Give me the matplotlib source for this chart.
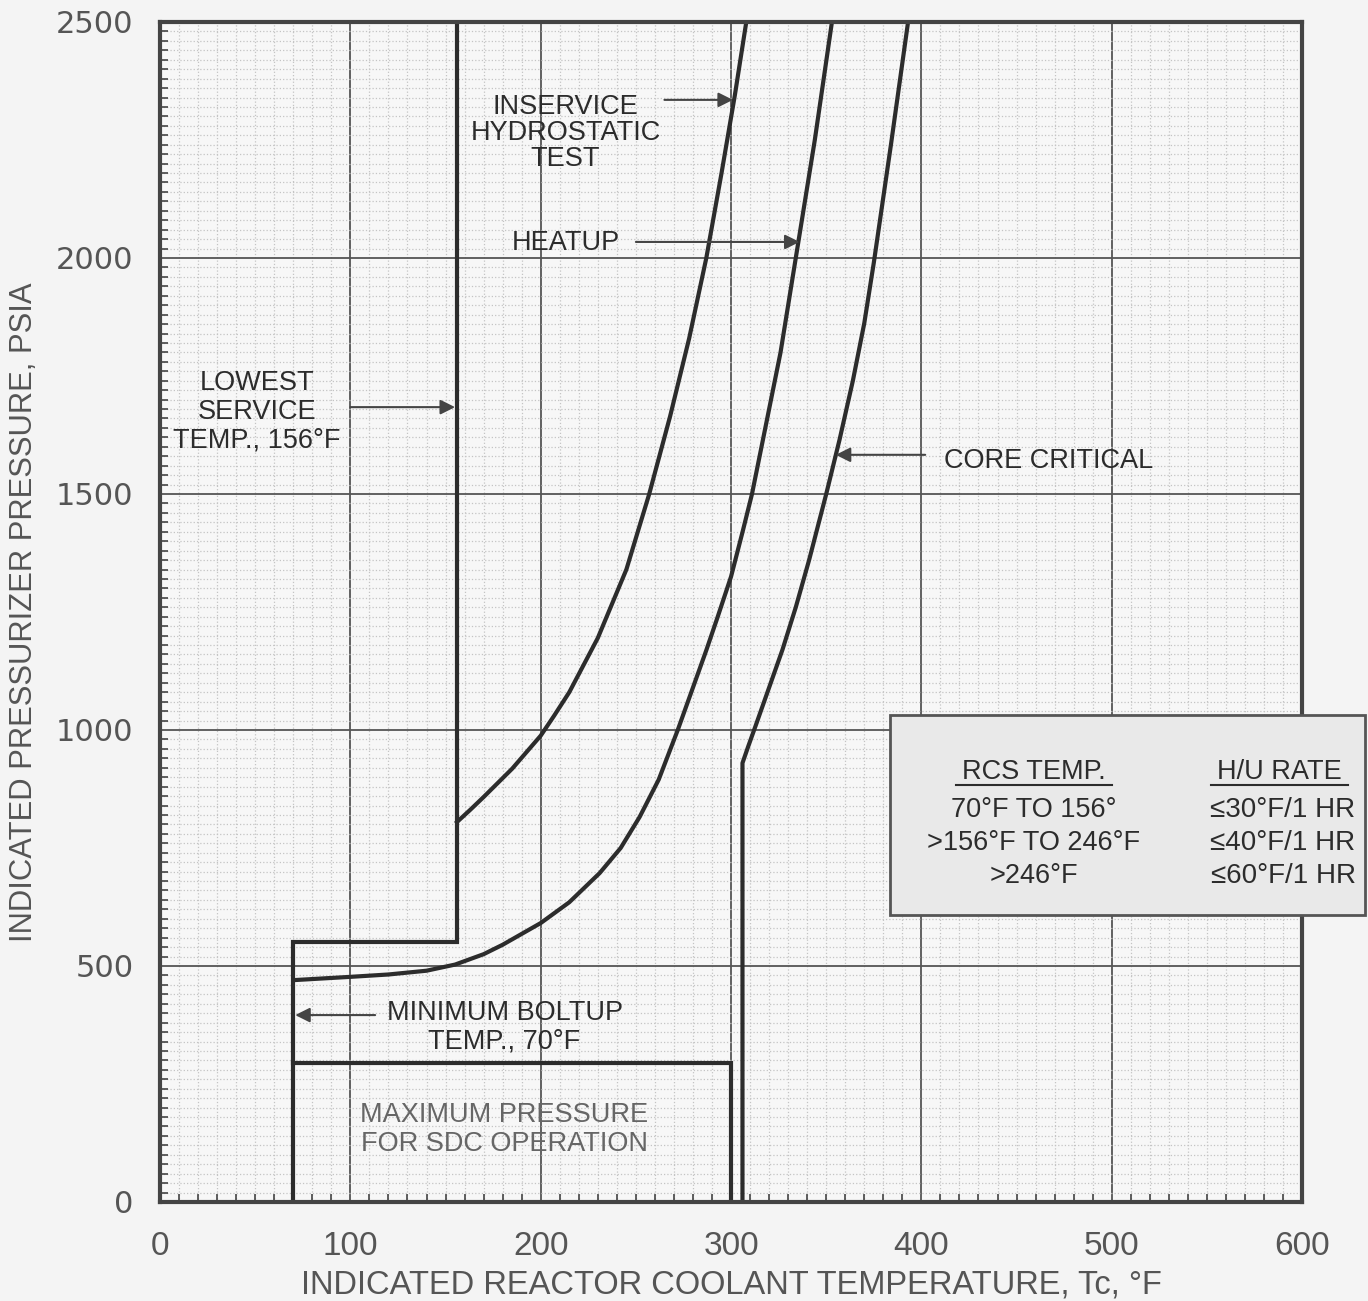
import matplotlib
matplotlib.use("Agg")
import matplotlib.pyplot as plt
from matplotlib.patches import Rectangle
from matplotlib.ticker import MultipleLocator

# curve data (deg F, psia)
hydro_t = [156, 163, 170, 185, 200, 207, 215, 230, 245, 257, 268, 278, 287, 295, 302, 308]
hydro_p = [805, 831, 858, 918, 988, 1030, 1080, 1195, 1340, 1500, 1665, 1830, 2000, 2180, 2345, 2500]

heatup_t = [70, 100, 120, 140, 155, 170, 180, 200, 215, 231, 242, 252, 262, 272, 287, 293,
            300, 306, 311, 318, 326, 334, 344, 353]
heatup_p = [470, 477, 482, 490, 503, 525, 545, 591, 635, 697, 750, 816, 895, 1000, 1169, 1240,
            1325, 1419, 1500, 1640, 1800, 2000, 2250, 2500]

core_t = [306, 306, 309, 313, 320, 327, 334, 341, 350, 357, 364, 370, 375, 384, 393]
core_p = [0, 930, 965, 1010, 1090, 1170, 1260, 1360, 1500, 1615, 1740, 1862, 1990, 2240, 2500]

# lowest service temp / boltup limit
lst_t = [70, 70, 156, 156]
lst_p = [0, 550, 550, 2500]

# max pressure for SDC operation
sdc_t = [70, 300, 300]
sdc_p = [295, 295, 0]

xticks = [0, 100, 200, 300, 400, 500, 600]
yticks = [0, 500, 1000, 1500, 2000, 2500]

table_left = ["70\u00b0F TO 156\u00b0", ">156\u00b0F TO 246\u00b0F", ">246\u00b0F"]
table_right = ["\u226430\u00b0F/1 HR", "\u226440\u00b0F/1 HR", "\u226460\u00b0F/1 HR"]

plt.rcParams["font.family"] = ["Liberation Sans", "DejaVu Sans"]
ink = "#2c2c2c"
gray_txt = "#555555"

fig = plt.figure(figsize=(13.68, 13.01), dpi=100, facecolor="#f4f4f4")
ax = fig.add_axes([0.117, 0.0761, 0.8348, 0.907])
ax.set_facecolor("#f7f7f7")

ax.set_xlim(0, 600)
ax.set_ylim(0, 2500)
ax.set_xticks(xticks)
ax.set_yticks(yticks)
ax.xaxis.set_minor_locator(MultipleLocator(10))
ax.yaxis.set_minor_locator(MultipleLocator(20))
ax.grid(which="minor", color="#c4c4c4", linestyle=":", linewidth=0.9)
ax.grid(which="major", color="#555555", linestyle="-", linewidth=1.3)
ax.set_axisbelow(True)
ax.tick_params(which="major", length=0)
ax.tick_params(axis="x", which="major", pad=21, labelsize=24, labelcolor=gray_txt)
ax.tick_params(axis="y", which="major", pad=19, labelsize=22, labelcolor=gray_txt)
for lab in ax.get_yticklabels():
    lab.set_family("DejaVu Sans")
ax.tick_params(which="minor", direction="in", length=6, width=1.2, color="#444444")
for s in ax.spines.values():
    s.set_linewidth(3)
    s.set_color("#444444")

lw = 3.0
ax.plot(lst_t, lst_p, color=ink, lw=lw, solid_joinstyle="miter")
ax.plot(sdc_t, sdc_p, color=ink, lw=lw, solid_joinstyle="miter")
ax.plot(hydro_t, hydro_p, color=ink, lw=lw)
ax.plot(heatup_t, heatup_p, color=ink, lw=lw)
ax.plot(core_t, core_p, color=ink, lw=lw)

fs = 19.5
arrow = dict(arrowstyle="-|>", color="#444444", lw=1.5, mutation_scale=22, shrinkA=0, shrinkB=0)

ax.text(213, 2265, "INSERVICE\nHYDROSTATIC\nTEST", ha="center", va="center",
        fontsize=fs, color=ink, linespacing=1.0)
ax.annotate("", xy=(301, 2335), xytext=(265, 2335), arrowprops=arrow)

ax.text(213, 2032, "HEATUP", ha="center", va="center", fontsize=fs, color=ink)
ax.annotate("", xy=(336, 2034), xytext=(250, 2034), arrowprops=arrow)

ax.text(51, 1674, "LOWEST\nSERVICE\nTEMP., 156\u00b0F", ha="center", va="center",
        fontsize=fs, color=ink, linespacing=1.15)
ax.annotate("", xy=(155, 1684), xytext=(100, 1684), arrowprops=arrow)

ax.text(412, 1570, "CORE CRITICAL", ha="left", va="center", fontsize=fs, color=ink)
ax.annotate("", xy=(355, 1583), xytext=(402, 1583), arrowprops=arrow)

ax.text(181, 370, "MINIMUM BOLTUP\nTEMP., 70\u00b0F", ha="center", va="center",
        fontsize=fs, color=ink, linespacing=1.12)
ax.annotate("", xy=(71, 396), xytext=(113, 396), arrowprops=arrow)

ax.text(181, 154, "MAXIMUM PRESSURE\nFOR SDC OPERATION", ha="center", va="center",
        fontsize=fs, color="#666666", linespacing=1.15)

# heatup rate table
box = Rectangle((383.5, 608), 249.5, 424, facecolor="#e9e9e9", edgecolor="#555555",
                lw=2, clip_on=False, zorder=5)
ax.add_patch(box)
ax.text(459, 910, "RCS TEMP.", ha="center", va="center", fontsize=fs, color=ink, zorder=6)
ax.plot([418, 500], [883, 883], color=ink, lw=1.5, clip_on=False, zorder=6)
ax.text(588, 910, "H/U RATE", ha="center", va="center", fontsize=fs, color=ink, zorder=6)
ax.plot([552, 624], [883, 883], color=ink, lw=1.5, clip_on=False, zorder=6)
for i, (l, r) in enumerate(zip(table_left, table_right)):
    y = 830 - i * 70
    ax.text(459, y, l, ha="center", va="center", fontsize=fs, color=ink, zorder=6)
    ax.text(590, y, r, ha="center", va="center", fontsize=20, color=ink, zorder=6)

ax.set_xlabel("INDICATED REACTOR COOLANT TEMPERATURE, Tc, \u00b0F", fontsize=23.5,
              color=gray_txt)
ax.set_ylabel("INDICATED PRESSURIZER PRESSURE, PSIA", fontsize=22.3, color=gray_txt)
ax.xaxis.set_label_coords(0.5, -0.057)
ax.yaxis.set_label_coords(-0.106, 0.5)

fig.savefig("out.png", dpi=100, facecolor=fig.get_facecolor())
